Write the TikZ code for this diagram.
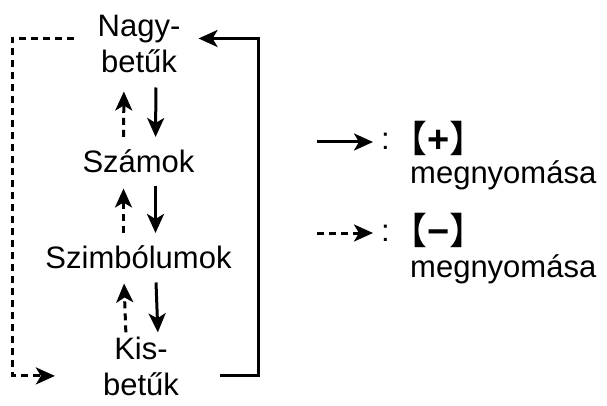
\documentclass[tikz,border=0pt]{standalone}
\usepackage{fontspec}
\setmainfont{Liberation Sans}
\newfontfamily\cjk{Noto Sans CJK SC}
\usetikzlibrary{arrows.meta}
\tikzstyle{mode} = [inner sep=0pt, align=center, font=\fontsize{31}{36}\selectfont]
\tikzstyle{key} = [inner sep=0pt, font=\fontsize{31}{36}\selectfont]
\tikzstyle{line} = [draw, line width=3pt, -{Stealth[length=19pt,width=17pt,inset=5pt]}]
\tikzstyle{dline} = [line, dash pattern=on 7pt off 5pt]
\newcommand{\keysign}[1]{\kern-16pt{\cjk\fontsize{37}{37}\selectfont 【}{\fontsize{38}{38}\bfseries #1}{\cjk\fontsize{37}{37}\selectfont 】}\kern-16pt}
\begin{document}
\begin{tikzpicture}[x=1pt, y=-1pt]
        \useasboundingbox (0,0) rectangle (607,406);
        % Place nodes
        % 1. Input modes, top to bottom
        \node [mode, anchor=base] (nagy) at (139,73) {Nagy-\\bet\H{u}k};
        \node [mode, anchor=base] (szam) at (138.5,172) {Számok};
        \node [mode, anchor=base] (szim) at (138.5,268) {Szimbólumok};
        \node [mode, anchor=base] (kis) at (141,395) {Kis-\\bet\H{u}k};
        
        % 2. Legend
        \node [key, anchor=west] (col1) at (381,141) {:};
        \node [key, anchor=west] (plus) at (406,138) {\keysign{+}};
        \node [key, anchor=base west] (meg1) at (410,183) {megnyomása};
        \node [key, anchor=west] (col2) at (381,233) {:};
        \node [key, anchor=west] (minu) at (406,230) {\keysign{−}};
        \node [key, anchor=base west] (meg2) at (410,277) {megnyomása};
        \coordinate (key1) at (317,142);
        \coordinate (key2) at (317,233);
        
        % Draw edges
        % down with [+]
        \path [line, shorten <=14pt, shorten >=12pt] ([xshift=17pt]nagy.south) -- ([xshift=17pt]szam.north);
        \path [line, shorten <=13pt, shorten >=12pt] ([xshift=17pt]szam.south) -- ([xshift=17pt]szim.north);
        \path [line, shorten <=14pt, shorten >=4pt] ([xshift=17pt]szim.south) -- ([xshift=17pt]kis.north);
        \path [line] ([xshift=41pt,yshift=-10pt]kis.east) -- ++(38,0) |- ([xshift=18pt,yshift=6pt]nagy.east);
        % up with [-]
        \path [dline, shorten <=12pt, shorten >=18pt] ([xshift=-15pt]szam.north) -- ([xshift=-15pt]nagy.south);
        \path [dline, shorten <=12pt, shorten >=16pt] ([xshift=-15pt]szim.north) -- ([xshift=-15pt]szam.south);
        \path [dline, shorten <=4pt, shorten >=15pt] ([xshift=-15pt]kis.north) -- ([xshift=-15pt]szim.south);
        \path [dline] ([xshift=-23pt,yshift=6pt]nagy.west) -- ++(-62,0) |- ([xshift=-48pt,yshift=-10pt]kis.west);
        % legend arrows
        \path [line, shorten >=8pt] (key1) -- (key1 -| col1.west);
        \path [dline, shorten >=8pt] (key2) -- (key2 -| col2.west);
        
      \end{tikzpicture}
\end{document}
